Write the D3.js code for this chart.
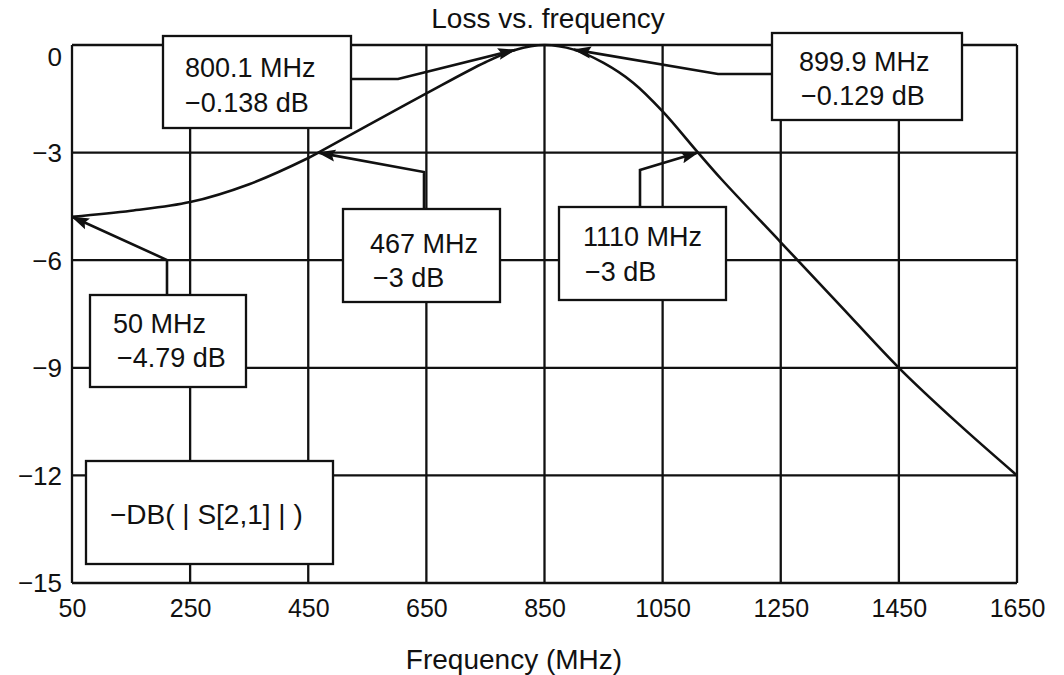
<!DOCTYPE html>
<html>
<head>
<meta charset="utf-8">
<script src="https://cdn.jsdelivr.net/npm/d3@7"></script>
<style>
  body { margin: 0; background: #fff; }
  text { font-family: "Liberation Sans", Arial, Helvetica, sans-serif; fill: #111; }
</style>
</head>
<body>
<div id="chart"></div>
<script>
// ---------------------------------- DATA ---------------------------------- //

let freq_mhz = [50, 150, 250, 350, 450, 467, 550, 650, 750, 800.1, 850, 899.9, 950, 1000, 1050, 1110, 1150, 1250, 1350, 1450, 1550, 1650];
let loss_db = [-4.79, -4.62, -4.38, -3.88, -3.15, -3.0, -2.25, -1.35, -0.48, -0.138, 0, -0.129, -0.5, -1.05, -1.85, -3.0, -3.75, -5.5, -7.25, -9.0, -10.55, -12.0];

let x_ticks = [50, 250, 450, 650, 850, 1050, 1250, 1450, 1650];
let y_ticks = [0, -3, -6, -9, -12, -15];

let marker_freq = [800.1, 899.9, 467, 1110, 50];
let marker_loss = [-0.138, -0.129, -3, -3, -4.79];
let marker_line1 = ['800.1 MHz', '899.9 MHz', '467 MHz', '1110 MHz', '50 MHz'];
let marker_line2 = ['\u22120.138 dB', '\u22120.129 dB', '\u22123 dB', '\u22123 dB', '\u22124.79 dB'];

let title_text = 'Loss vs. frequency';
let x_label_text = 'Frequency (MHz)';
let trace_label = '\u2212DB( | S[2,1] | )';

// ---------------------------------- SETTINGS ---------------------------------- //

let img_width = 1064;
let img_height = 675;
let plot_left = 72;
let plot_right = 1017;
let plot_top = 45;
let plot_bottom = 583;
let line_w = 2.3;

// marker box layout (pixels): box, text left edges, baselines, leader elbow
let marker_boxes = [
  { x: 163, y: 36, w: 188, h: 92, t1: 185, t2: 185, b1: 77, b2: 112, start: [351, 79], elbow: [398, 79] },
  { x: 772, y: 33, w: 190, h: 87, t1: 799, t2: 801, b1: 71, b2: 105, start: [772, 74], elbow: [718, 74] },
  { x: 343, y: 209, w: 157, h: 93, t1: 370, t2: 373, b1: 253, b2: 287, start: [424, 209], elbow: [424, 172] },
  { x: 559, y: 207, w: 167, h: 93, t1: 583, t2: 585, b1: 246, b2: 281, start: [640, 207], elbow: [640, 170] },
  { x: 90, y: 295, w: 156, h: 92, t1: 113, t2: 117, b1: 333, b2: 367, start: [167, 295], elbow: [167, 260] }
];

// ---------------------------------- SCALES ---------------------------------- //

let x = d3.scaleLinear().domain([50, 1650]).range([plot_left, plot_right]);
let y = d3.scaleLinear().domain([-15, 0]).range([plot_bottom, plot_top]);

let svg = d3.select('#chart')
  .append('svg')
  .attr('width', img_width)
  .attr('height', img_height);

svg.append('defs').append('marker')
  .attr('id', 'arrow')
  .attr('markerUnits', 'userSpaceOnUse')
  .attr('markerWidth', 18)
  .attr('markerHeight', 14)
  .attr('viewBox', '0 0 18 14')
  .attr('refX', 17)
  .attr('refY', 7)
  .attr('orient', 'auto')
  .append('path')
  .attr('d', 'M0,1 L18,7 L0,13 L3,7 Z')
  .attr('fill', '#111');

// ---------------------------------- GRID ---------------------------------- //

let g_grid = svg.append('g').attr('id', 'g_grid');

g_grid.selectAll('line.vgrid')
  .data(x_ticks)
  .enter()
  .append('line')
  .attr('class', 'vgrid')
  .attr('x1', d => x(d)).attr('x2', d => x(d))
  .attr('y1', plot_top).attr('y2', plot_bottom)
  .attr('stroke', '#111')
  .attr('stroke-width', line_w);

g_grid.selectAll('line.hgrid')
  .data(y_ticks)
  .enter()
  .append('line')
  .attr('class', 'hgrid')
  .attr('x1', plot_left).attr('x2', plot_right)
  .attr('y1', d => y(d)).attr('y2', d => y(d))
  .attr('stroke', '#111')
  .attr('stroke-width', line_w);

// ---------------------------------- AXES ---------------------------------- //

let x_axis = svg.append('g')
  .attr('transform', `translate(0,${plot_bottom})`)
  .call(d3.axisBottom(x).tickValues(x_ticks).tickSize(0).tickPadding(10).tickFormat(d3.format('d')));
x_axis.select('.domain').remove();
x_axis.selectAll('text')
  .style('font-size', '25px')
  .attr('dy', '0.95em');

let y_axis = svg.append('g')
  .attr('transform', `translate(${plot_left},0)`)
  .call(d3.axisLeft(y).tickValues(y_ticks).tickSize(0).tickPadding(10).tickFormat(d3.format('d')));
y_axis.select('.domain').remove();
y_axis.selectAll('text')
  .style('font-size', '26px')
  .attr('dy', d => d === 0 ? '0.78em' : '0.34em');

// ---------------------------------- TRACE ---------------------------------- //

let trace = freq_mhz.map((f, i) => [f, loss_db[i]]);
let line = d3.line()
  .x(d => x(d[0]))
  .y(d => y(d[1]))
  .curve(d3.curveCatmullRom.alpha(0.5));

svg.append('path')
  .datum(trace)
  .attr('d', line)
  .attr('fill', 'none')
  .attr('stroke', '#111')
  .attr('stroke-width', 2.6);

// ---------------------------------- MARKERS ---------------------------------- //

let g_markers = svg.append('g').attr('id', 'g_markers');

marker_boxes.forEach((b, i) => {
  let tip = [x(marker_freq[i]), y(marker_loss[i])];
  g_markers.append('path')
    .attr('d', d3.line()([b.start, b.elbow, tip]))
    .attr('fill', 'none')
    .attr('stroke', '#111')
    .attr('stroke-width', 2.6)
    .attr('marker-end', 'url(#arrow)');
});

marker_boxes.forEach((b, i) => {
  g_markers.append('rect')
    .attr('x', b.x).attr('y', b.y)
    .attr('width', b.w).attr('height', b.h)
    .attr('fill', '#fff')
    .attr('stroke', '#111')
    .attr('stroke-width', line_w);
  g_markers.append('text')
    .attr('x', b.t1).attr('y', b.b1)
    .style('font-size', '27px')
    .text(marker_line1[i]);
  g_markers.append('text')
    .attr('x', b.t2).attr('y', b.b2)
    .style('font-size', '27px')
    .text(marker_line2[i]);
});

// trace name box
svg.append('rect')
  .attr('x', 86).attr('y', 461)
  .attr('width', 247).attr('height', 103)
  .attr('fill', '#fff')
  .attr('stroke', '#111')
  .attr('stroke-width', line_w);
svg.append('text')
  .attr('x', 110).attr('y', 524)
  .style('font-size', '28px')
  .style('white-space', 'pre')
  .text(trace_label);

// ---------------------------------- TITLES ---------------------------------- //

svg.append('text')
  .attr('x', 548).attr('y', 28)
  .attr('text-anchor', 'middle')
  .style('font-size', '28px')
  .text(title_text);

svg.append('text')
  .attr('x', 514).attr('y', 669)
  .attr('text-anchor', 'middle')
  .style('font-size', '28px')
  .text(x_label_text);
</script>
</body>
</html>
